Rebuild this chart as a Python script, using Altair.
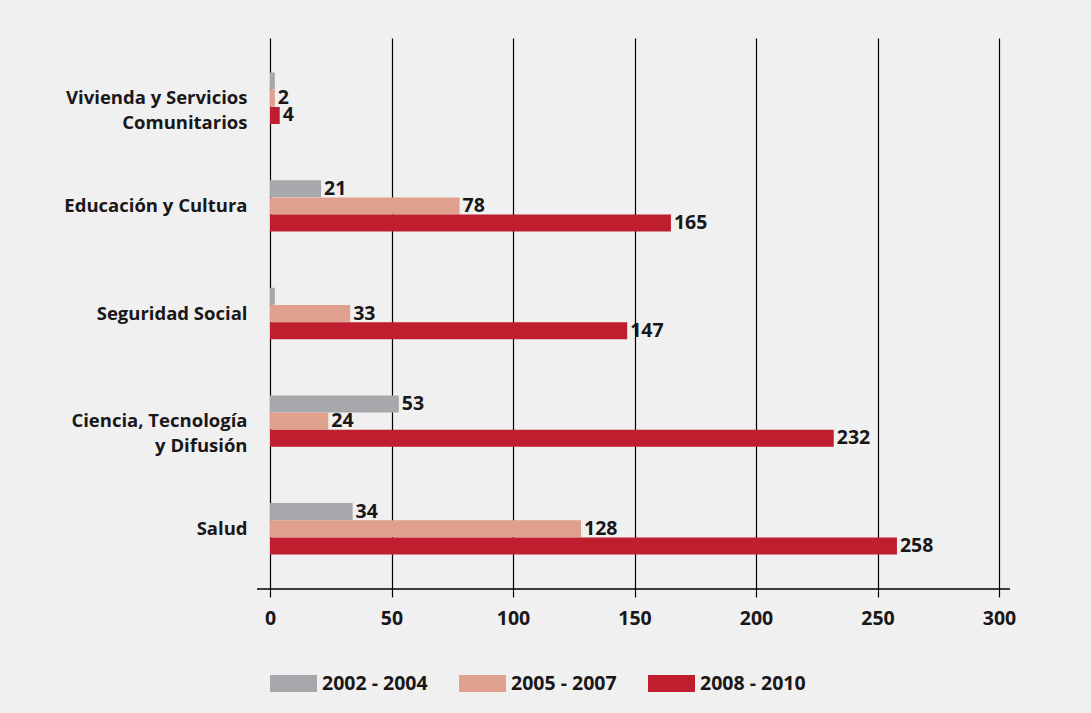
import altair as alt
import pandas as pd

categories = ["Vivienda y Servicios Comunitarios", "Educación y Cultura", "Seguridad Social",
              "Ciencia, Tecnología y Difusión", "Salud"]
cat_labels = ["Vivienda y Servicios|Comunitarios", "Educación y Cultura", "Seguridad Social",
              "Ciencia, Tecnología|y Difusión", "Salud"]
periods = ["2002 - 2004", "2005 - 2007", "2008 - 2010"]
v2002 = [2, 21, 2, 53, 34]
v2005 = [2, 78, 33, 24, 128]
v2008 = [4, 165, 147, 232, 258]
show2002 = [False, True, False, True, True]
show2005 = [True, True, True, True, True]
show2008 = [True, True, True, True, True]
colors = ["#a7a8ab", "#dfa08e", "#be1e2d"]
x_ticks = [0, 50, 100, 150, 200, 250, 300]

rows = []
for p, vals, shows in zip(periods, [v2002, v2005, v2008], [show2002, show2005, show2008]):
    for c, lab, v, s in zip(categories, cat_labels, vals, shows):
        rows.append({"cat": c, "catlab": lab, "period": p, "value": v, "label": str(v) if s else ""})
df = pd.DataFrame(rows)

W, H = 729, 551
FONT = "Open Sans"
TXT = "#1a1718"

y_enc = alt.Y("catlab:N", sort=cat_labels, title=None,
              scale=alt.Scale(paddingInner=0.52, paddingOuter=0.32),
              axis=alt.Axis(labelExpr="split(datum.label, '|')", labelFont=FONT, labelFontSize=18.5,
                            labelFontWeight="bold", labelColor=TXT, labelPadding=23,
                            labelLimit=400, labelLineHeight=25, domain=False, ticks=False))
x_enc = alt.X("value:Q", title=None,
              scale=alt.Scale(domain=[0, 300], nice=False),
              axis=alt.Axis(values=x_ticks, grid=True, gridColor="#000000", gridWidth=1.2,
                            gridOpacity=1, domain=False, tickColor="#000000", tickSize=8,
                            tickWidth=1.2, labelFont=FONT, labelFontSize=19.5, labelFontWeight="bold",
                            labelColor=TXT, labelPadding=12, labelFlush=False))

base = alt.Chart(df)
bars = base.mark_bar(height=17, cornerRadius=0).encode(
    y=y_enc,
    yOffset=alt.YOffset("period:N", sort=periods),
    x=x_enc,
    color=alt.Color("period:N", sort=periods, scale=alt.Scale(domain=periods, range=colors),
                    legend=alt.Legend(title=None, orient="none", direction="horizontal",
                                      legendX=0, legendY=622,
                                      symbolType="M-1,-0.362H1V0.362H-1Z", symbolSize=2209,
                                      symbolStrokeWidth=0, symbolOpacity=1,
                                      labelFont=FONT, labelFontSize=19.5, labelFontWeight="bold",
                                      labelColor=TXT, labelOffset=5, columnPadding=31)),
)
texts = base.mark_text(align="left", baseline="middle", dx=3, font=FONT, fontSize=19.5,
                       fontWeight="bold", color=TXT).encode(
    y=alt.Y("catlab:N", sort=cat_labels),
    yOffset=alt.YOffset("period:N", sort=periods),
    x=alt.X("value:Q"),
    text="label:N",
)
axis_line = alt.Chart(pd.DataFrame({"a": [0]})).mark_rule(color="#000000", strokeWidth=1.5).encode(
    x=alt.value(-13), x2=alt.value(W + 11), y=alt.value(H)
)

chart = alt.layer(bars, texts, axis_line).properties(
    width=W, height=H,
    autosize=alt.AutoSizeParams(type="none"),
    padding={"left": 270, "top": 38, "right": 92, "bottom": 124},
    background="#f0f0f0",
).configure_view(stroke=None).configure_axis(labelAngle=0)

chart.save("out.html", embed_options={"renderer": "svg", "actions": False})
